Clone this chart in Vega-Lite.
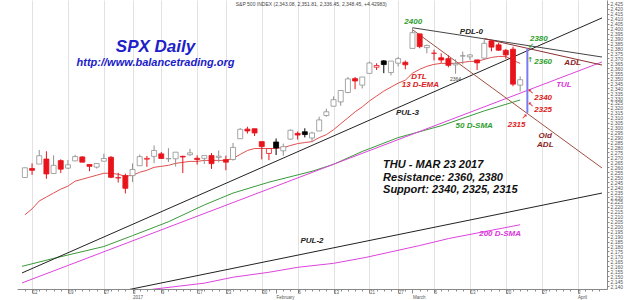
{
"$schema":"https://vega.github.io/schema/vega-lite/v6.json",
"width":590,"height":289,
"autosize":{"type":"none"},
"padding":{"left":17,"right":17,"top":0,"bottom":11},
"background":"white",
"config":{"view":{"stroke":null},"font":"Liberation Sans"},
"datasets":{
"candles":[
{"i":0,"o":2249.7,"h":2259.8,"l":2249.2,"c":2259.5},
{"i":1,"o":2258.8,"h":2264.0,"l":2252.4,"c":2257.0},
{"i":2,"o":2263.3,"h":2277.5,"l":2263.3,"c":2271.7},
{"i":3,"o":2268.4,"h":2276.2,"l":2248.4,"c":2253.3},
{"i":4,"o":2253.8,"h":2272.1,"l":2253.8,"c":2262.0},
{"i":5,"o":2266.8,"h":2268.1,"l":2254.2,"c":2258.1},
{"i":6,"o":2259.2,"h":2267.5,"l":2258.2,"c":2262.5},
{"i":7,"o":2266.5,"h":2272.6,"l":2266.2,"c":2270.8},
{"i":8,"o":2270.5,"h":2271.2,"l":2265.2,"c":2265.2},
{"i":9,"o":2262.9,"h":2263.2,"l":2256.1,"c":2261.0},
{"i":10,"o":2260.2,"h":2263.8,"l":2258.8,"c":2263.8},
{"i":11,"o":2266.2,"h":2273.8,"l":2266.2,"c":2268.9},
{"i":12,"o":2270.2,"h":2271.3,"l":2249.1,"c":2249.9},
{"i":13,"o":2249.5,"h":2254.5,"l":2244.6,"c":2249.3},
{"i":14,"o":2251.6,"h":2253.6,"l":2233.6,"c":2238.8},
{"i":15,"o":2251.6,"h":2263.9,"l":2245.1,"c":2257.8},
{"i":16,"o":2261.6,"h":2272.8,"l":2261.6,"c":2270.8},
{"i":17,"o":2268.2,"h":2271.5,"l":2260.5,"c":2269.0},
{"i":18,"o":2271.1,"h":2282.1,"l":2264.1,"c":2277.0},
{"i":19,"o":2273.6,"h":2275.5,"l":2268.4,"c":2268.9},
{"i":20,"o":2268.6,"h":2279.3,"l":2265.3,"c":2268.9},
{"i":21,"o":2268.6,"h":2275.3,"l":2260.8,"c":2275.3},
{"i":22,"o":2271.1,"h":2271.8,"l":2254.3,"c":2270.4},
{"i":23,"o":2272.7,"h":2278.7,"l":2271.5,"c":2274.6},
{"i":24,"o":2269.1,"h":2272.1,"l":2262.8,"c":2267.9},
{"i":25,"o":2269.1,"h":2272.0,"l":2263.4,"c":2271.9},
{"i":26,"o":2271.9,"h":2274.3,"l":2258.4,"c":2263.7},
{"i":27,"o":2270.0,"h":2277.0,"l":2265.0,"c":2271.3},
{"i":28,"o":2267.8,"h":2271.8,"l":2257.0,"c":2265.2},
{"i":29,"o":2267.9,"h":2284.6,"l":2266.7,"c":2280.1},
{"i":30,"o":2288.9,"h":2299.6,"l":2288.9,"c":2298.4},
{"i":31,"o":2298.6,"h":2301.0,"l":2294.1,"c":2296.7},
{"i":32,"o":2299.0,"h":2299.0,"l":2291.6,"c":2294.7},
{"i":33,"o":2286.0,"h":2286.0,"l":2268.0,"c":2280.9},
{"i":34,"o":2274.0,"h":2279.1,"l":2267.2,"c":2278.9},
{"i":35,"o":2285.6,"h":2289.1,"l":2272.4,"c":2279.6},
{"i":36,"o":2276.7,"h":2284.0,"l":2271.7,"c":2280.9},
{"i":37,"o":2288.5,"h":2298.3,"l":2287.9,"c":2297.4},
{"i":38,"o":2294.3,"h":2296.2,"l":2288.0,"c":2292.6},
{"i":39,"o":2295.9,"h":2299.4,"l":2290.2,"c":2293.1},
{"i":40,"o":2289.6,"h":2295.9,"l":2285.4,"c":2294.7},
{"i":41,"o":2296.7,"h":2311.1,"l":2296.6,"c":2307.9},
{"i":42,"o":2312.3,"h":2319.2,"l":2311.1,"c":2316.1},
{"i":43,"o":2321.7,"h":2331.6,"l":2321.4,"c":2328.3},
{"i":44,"o":2326.1,"h":2337.6,"l":2322.2,"c":2337.6},
{"i":45,"o":2335.6,"h":2351.3,"l":2334.8,"c":2349.3},
{"i":46,"o":2349.6,"h":2351.3,"l":2338.9,"c":2347.2},
{"i":47,"o":2343.0,"h":2351.2,"l":2339.6,"c":2351.2},
{"i":48,"o":2354.9,"h":2366.7,"l":2354.9,"c":2365.4},
{"i":49,"o":2361.1,"h":2365.1,"l":2358.3,"c":2362.8},
{"i":50,"o":2367.5,"h":2368.3,"l":2355.1,"c":2363.8},
{"i":51,"o":2355.7,"h":2367.3,"l":2352.9,"c":2367.3},
{"i":52,"o":2365.2,"h":2371.5,"l":2361.9,"c":2369.8},
{"i":53,"o":2366.1,"h":2367.8,"l":2359.0,"c":2363.6},
{"i":54,"o":2380.1,"h":2401.0,"l":2380.1,"c":2396.0},
{"i":55,"o":2394.8,"h":2394.8,"l":2380.2,"c":2381.9},
{"i":56,"o":2380.9,"h":2383.9,"l":2375.1,"c":2383.1},
{"i":57,"o":2375.2,"h":2378.8,"l":2368.0,"c":2375.3},
{"i":58,"o":2370.7,"h":2375.1,"l":2365.5,"c":2368.4},
{"i":59,"o":2369.8,"h":2373.1,"l":2361.0,"c":2363.0},
{"i":60,"o":2363.5,"h":2369.1,"l":2354.5,"c":2364.9},
{"i":61,"o":2372.5,"h":2376.9,"l":2364.0,"c":2372.6},
{"i":62,"o":2371.6,"h":2374.4,"l":2368.5,"c":2373.5},
{"i":63,"o":2368.5,"h":2368.6,"l":2358.2,"c":2365.5},
{"i":64,"o":2370.3,"h":2390.0,"l":2368.9,"c":2385.3},
{"i":65,"o":2387.7,"h":2388.1,"l":2377.2,"c":2381.4},
{"i":66,"o":2383.7,"h":2385.7,"l":2377.6,"c":2378.3},
{"i":67,"o":2378.2,"h":2379.6,"l":2369.7,"c":2373.5},
{"i":68,"o":2379.3,"h":2381.9,"l":2341.9,"c":2344.0},
{"i":69,"o":2343.0,"h":2351.8,"l":2336.5,"c":2348.5}
],
"lines":[
{"s":"ema","i":0,"v":2212},{"s":"ema","i":1,"v":2218},{"s":"ema","i":2,"v":2226},{"s":"ema","i":3,"v":2230},{"s":"ema","i":4,"v":2234},{"s":"ema","i":5,"v":2238},{"s":"ema","i":6,"v":2241},{"s":"ema","i":7,"v":2246},{"s":"ema","i":8,"v":2248},{"s":"ema","i":9,"v":2250},{"s":"ema","i":10,"v":2252},{"s":"ema","i":11,"v":2254},{"s":"ema","i":12,"v":2254},{"s":"ema","i":13,"v":2253},{"s":"ema","i":14,"v":2251},{"s":"ema","i":15,"v":2252},{"s":"ema","i":16,"v":2255},{"s":"ema","i":17,"v":2257},{"s":"ema","i":18,"v":2260},{"s":"ema","i":19,"v":2261},{"s":"ema","i":20,"v":2262},{"s":"ema","i":21,"v":2264},{"s":"ema","i":22,"v":2265},{"s":"ema","i":23,"v":2266},{"s":"ema","i":24,"v":2266},{"s":"ema","i":25,"v":2267},{"s":"ema","i":26,"v":2267},{"s":"ema","i":27,"v":2267},{"s":"ema","i":28,"v":2267},{"s":"ema","i":29,"v":2269},{"s":"ema","i":30,"v":2273},{"s":"ema","i":31,"v":2277},{"s":"ema","i":32,"v":2279},{"s":"ema","i":33,"v":2279},{"s":"ema","i":34,"v":2279},{"s":"ema","i":35,"v":2279},{"s":"ema","i":36,"v":2280},{"s":"ema","i":37,"v":2282},{"s":"ema","i":38,"v":2284},{"s":"ema","i":39,"v":2285},{"s":"ema","i":40,"v":2286},{"s":"ema","i":41,"v":2290},{"s":"ema","i":42,"v":2293},{"s":"ema","i":43,"v":2298},{"s":"ema","i":44,"v":2304},{"s":"ema","i":45,"v":2310},{"s":"ema","i":46,"v":2316},{"s":"ema","i":47,"v":2321},{"s":"ema","i":48,"v":2327},{"s":"ema","i":49,"v":2332},{"s":"ema","i":50,"v":2337},{"s":"ema","i":51,"v":2341},{"s":"ema","i":52,"v":2345},{"s":"ema","i":53,"v":2348},{"s":"ema","i":54,"v":2355},{"s":"ema","i":55,"v":2359},{"s":"ema","i":56,"v":2362},{"s":"ema","i":57,"v":2364},{"s":"ema","i":58,"v":2365},{"s":"ema","i":59,"v":2365},{"s":"ema","i":60,"v":2365},{"s":"ema","i":61,"v":2366},{"s":"ema","i":62,"v":2367},{"s":"ema","i":63,"v":2367},{"s":"ema","i":64,"v":2369},{"s":"ema","i":65,"v":2371},{"s":"ema","i":66,"v":2372},{"s":"ema","i":67,"v":2372},{"s":"ema","i":68,"v":2368},{"s":"ema","i":69,"v":2365},
{"s":"sma50","i":-0.4,"v":2160},{"s":"sma50","i":4,"v":2168},{"s":"sma50","i":11,"v":2180},{"s":"sma50","i":15,"v":2191},{"s":"sma50","i":20,"v":2205},{"s":"sma50","i":25,"v":2222},{"s":"sma50","i":29,"v":2234},{"s":"sma50","i":34,"v":2245},{"s":"sma50","i":40,"v":2256},{"s":"sma50","i":43,"v":2263},{"s":"sma50","i":47,"v":2276},{"s":"sma50","i":52,"v":2290},{"s":"sma50","i":58,"v":2302},{"s":"sma50","i":64,"v":2317},{"s":"sma50","i":69,"v":2328},
{"s":"sma200","i":-0.4,"v":2117},{"s":"sma200","i":18,"v":2137},{"s":"sma200","i":25,"v":2143},{"s":"sma200","i":29,"v":2149},{"s":"sma200","i":34,"v":2154},{"s":"sma200","i":38,"v":2159},{"s":"sma200","i":43,"v":2163},{"s":"sma200","i":47.5,"v":2169},{"s":"sma200","i":55,"v":2181},{"s":"sma200","i":59,"v":2188},{"s":"sma200","i":69,"v":2202},
{"s":"pul3","i":-0.4,"v":2153.3},{"s":"pul3","i":80.4,"v":2410.9},
{"s":"pul2","i":-0.4,"v":2114.5},{"s":"pul2","i":80.4,"v":2234},
{"s":"tul","i":-0.4,"v":2143.2},{"s":"tul","i":80.4,"v":2366.4},
{"s":"pdl0","i":54,"v":2401},{"s":"pdl0","i":80.4,"v":2371.4},
{"s":"adl","i":64,"v":2390},{"s":"adl","i":80.4,"v":2363.3},
{"s":"oldadl","i":54,"v":2399},{"s":"oldadl","i":80.4,"v":2259.3}
],
"marker":[{"i":70,"lo":2315,"hi":2380}],
"notes":[
{"g":"title","i":18.2,"v":2381.5,"t":"SPX Daily"},
{"g":"url","i":18.2,"v":2365.4,"t":"http://www.balancetrading.org"},
{"g":"small","i":39.9,"v":2424.5,"t":"S&P 500 INDEX (2,343.08, 2,351.81, 2,336.45, 2,348.45, +4.42983)"},
{"g":"small","i":60,"v":2349.2,"t":"2364"},
{"g":"green","i":54.1,"v":2406.8,"t":"2400"},
{"g":"black","i":62.2,"v":2396.7,"t":"PDL-0"},
{"g":"green","i":71.6,"v":2389.6,"t":"2380"},
{"g":"green","i":72.2,"v":2366.4,"t":"2360"},
{"g":"brown","i":76.3,"v":2365.4,"t":"ADL"},
{"g":"magenta","i":75.1,"v":2343,"t":"TUL"},
{"g":"red","i":72.2,"v":2330,"t":"2340"},
{"g":"red","i":72.2,"v":2317.9,"t":"2325"},
{"g":"red","i":68.5,"v":2302.7,"t":"2315"},
{"g":"brown","i":72.5,"v":2291.6,"t":"Old"},
{"g":"brown","i":72.5,"v":2282.5,"t":"ADL"},
{"g":"red","i":54.9,"v":2351.2,"t":"DTL"},
{"g":"red","i":55.1,"v":2343.1,"t":"13 D-EMA"},
{"g":"black","i":53.3,"v":2314.9,"t":"PUL-3"},
{"g":"green","i":62.6,"v":2301.7,"t":"50 D-SMA"},
{"g":"black","i":40,"v":2185.6,"t":"PUL-2"},
{"g":"magenta","i":66.2,"v":2192.6,"t":"200 D-SMA"},
{"g":"big","i":49.9,"v":2262.3,"t":"THU - MAR 23 2017"},
{"g":"big","i":49.9,"v":2249.2,"t":"Resistance: 2360, 2380"},
{"g":"big","i":49.9,"v":2237.1,"t":"Support: 2340, 2325, 2315"}
],
"arrows":[
{"g":"green","i":70.5,"v":2382.5,"t":"↙"},
{"g":"green","i":70.4,"v":2368.4,"t":"↑"},
{"g":"red","i":70.5,"v":2336.1,"t":"↖"},
{"g":"red","i":70.5,"v":2322.9,"t":"↖"},
{"g":"red","i":69.6,"v":2310.8,"t":"↗"}
]
},
"encoding":{
"x":{"field":"i","type":"quantitative","scale":{"domain":[-0.4,80.4],"nice":false,"zero":false},
"axis":{"title":null,
"values":[0,1,2,3,4,5,6,7,8,9,10,11,12,13,14,15,16,17,18,19,20,21,22,23,24,25,26,27,28,29,30,31,32,33,34,35,36,37,38,39,40,41,42,43,44,45,46,47,48,49,50,51,52,53,54,55,56,57,58,59,60,61,62,63,64,65,66,67,68,69,70,71,72,73,74,75,76,77,78,79,80],
"labelExpr":"datum.value==15 ? ['3','2017'] : datum.value==35 ? ['','February'] : datum.value==54 ? ['','March'] : datum.value==77 ? ['3','April'] : indexof([1,6,11,19,24,28,33,38,43,48,52,57,62,67,72], datum.value) >= 0 ? ['12','19','27','9','17','23','30','6','13','21','27','6','13','20','27'][indexof([1,6,11,19,24,28,33,38,43,48,52,57,62,67,72], datum.value)] : ''",
"labelAlign":"left","labelDx":1.5,"labelFontSize":4.5,"labelColor":"#555","labelLineHeight":4.8,"labelPadding":-3.5,"labelBaseline":"top","labelOverlap":false,"labelFlush":false,"labelBound":false,
"tickSize":{"condition":{"test":"indexof([1,6,11,15,19,24,28,33,35,38,43,48,52,54,57,62,67,72,77], datum.value) >= 0","value":4},"value":2},
"tickColor":"#888","domainColor":"#888",
"grid":true,"gridColor":"#e2e2e2",
"gridOpacity":{"condition":{"test":"indexof([1,6,11,15,19,24,28,33,38,43,48,52,57,62,67,72,77], datum.value) >= 0","value":1},"value":0}
}}
},
"layer":[
{"data":{"name":"lines"},
 "mark":{"type":"line","clip":true,"strokeWidth":1},
 "encoding":{
  "y":{"field":"v","type":"quantitative","scale":{"domain":[2137.1,2429],"nice":false,"zero":false},
   "axis":{"orient":"right","title":null,"grid":false,"values":[2140,2145,2150,2155,2160,2165,2170,2175,2180,2185,2190,2195,2200,2205,2210,2215,2220,2225,2230,2235,2240,2245,2250,2255,2260,2265,2270,2275,2280,2285,2290,2295,2300,2305,2310,2315,2320,2325,2330,2335,2340,2345,2350,2355,2360,2365,2370,2375,2380,2385,2390,2395,2400,2405,2410,2415,2420,2425],"labelFontSize":5,"labelColor":"#555","tickSize":2,"labelPadding":1,"tickColor":"#888","domainColor":"#888","labelOverlap":false,"labelFlush":false}},
  "color":{"field":"s","type":"nominal","legend":null,
   "scale":{"domain":["ema","sma50","sma200","tul","pul3","pul2","pdl0","adl","oldadl"],"range":["#e05050","#3a9a3a","#dd44dd","#dd44dd","#222222","#222222","#444444","#8b3030","#a05040"]}},
  "order":{"field":"i","type":"quantitative"}
 }},
{"data":{"name":"candles"},
 "transform":[{"window":[{"op":"lag","field":"c","as":"pc"}],"sort":[{"field":"i"}]}],
 "layer":[
  {"mark":{"type":"rule","strokeWidth":1},
   "encoding":{
    "y":{"field":"l","type":"quantitative","axis":{"orient":"left","title":null,"grid":false,"values":[2140,2145,2150,2155,2160,2165,2170,2175,2180,2185,2190,2195,2200,2205,2210,2215,2220,2225,2230,2235,2240,2245,2250,2255,2260,2265,2270,2275,2280,2285,2290,2295,2300,2305,2310,2315,2320,2325,2330,2335,2340,2345,2350,2355,2360,2365,2370,2375,2380,2385,2390,2395,2400,2405,2410,2415,2420,2425],"labelFontSize":5,"labelColor":"#555","tickSize":2,"labelPadding":1,"tickColor":"#888","domainColor":"#888","labelOverlap":false,"labelFlush":false}},
    "y2":{"field":"h"},
    "color":{"condition":[{"test":"datum.pc != null && datum.c < datum.pc","value":"#e8141c"},{"test":"datum.c < datum.o","value":"#000000"}],"value":"#909090"}
   }},
  {"mark":{"type":"bar","width":5,"strokeWidth":0.8},
   "encoding":{
    "y":{"field":"o","type":"quantitative","axis":null},
    "y2":{"field":"c"},
    "fill":{"condition":[{"test":"datum.c < datum.o && datum.pc != null && datum.c < datum.pc","value":"#e8141c"},{"test":"datum.c < datum.o","value":"#000000"}],"value":"#ffffff"},
    "stroke":{"condition":[{"test":"datum.pc != null && datum.c < datum.pc","value":"#e8141c"},{"test":"datum.c < datum.o","value":"#000000"}],"value":"#909090"}
   }}
 ]},
{"data":{"name":"marker"},
 "mark":{"type":"rule","strokeWidth":2,"color":"#7b7bf0"},
 "encoding":{"y":{"field":"lo","type":"quantitative","axis":null},"y2":{"field":"hi"}}},
{"data":{"name":"notes"},"transform":[{"filter":"datum.g=='title'"}],
 "mark":{"type":"text","fontSize":17,"fontWeight":"bold","fontStyle":"italic","color":"#2020c8","align":"center","baseline":"middle"},
 "encoding":{"y":{"field":"v","type":"quantitative","axis":null},"text":{"field":"t"}}},
{"data":{"name":"notes"},"transform":[{"filter":"datum.g=='url'"}],
 "mark":{"type":"text","fontSize":11,"fontWeight":"bold","fontStyle":"italic","color":"#2020c8","align":"center","baseline":"middle"},
 "encoding":{"y":{"field":"v","type":"quantitative","axis":null},"text":{"field":"t"}}},
{"data":{"name":"notes"},"transform":[{"filter":"datum.g=='small'"}],
 "mark":{"type":"text","fontSize":5,"color":"#444","align":"center","baseline":"middle"},
 "encoding":{"y":{"field":"v","type":"quantitative","axis":null},"text":{"field":"t"}}},
{"data":{"name":"notes"},"transform":[{"filter":"datum.g=='big'"}],
 "mark":{"type":"text","fontSize":11,"fontWeight":"bold","fontStyle":"italic","color":"#111","align":"left","baseline":"middle"},
 "encoding":{"y":{"field":"v","type":"quantitative","axis":null},"text":{"field":"t"}}},
{"data":{"name":"notes"},"transform":[{"filter":"indexof(['green','red','brown','magenta','black'], datum.g) >= 0"}],
 "mark":{"type":"text","fontSize":8,"fontWeight":"bold","fontStyle":"italic","align":"center","baseline":"middle"},
 "encoding":{"y":{"field":"v","type":"quantitative","axis":null},"text":{"field":"t"},
  "color":{"field":"g","type":"nominal","legend":null,"scale":{"domain":["green","red","brown","magenta","black"],"range":["#2e9e2e","#dd2222","#8b2222","#dd33dd","#222222"]}}}},
{"data":{"name":"arrows"},
 "mark":{"type":"text","fontSize":7,"font":"DejaVu Sans","fontWeight":"bold","align":"center","baseline":"middle"},
 "encoding":{"y":{"field":"v","type":"quantitative","axis":null},"text":{"field":"t"},
  "color":{"field":"g","type":"nominal","legend":null,"scale":{"domain":["green","red"],"range":["#2e9e2e","#dd2222"]}}}}
],
"resolve":{"axis":{"y":"independent"},"scale":{"color":"independent"}}
}
